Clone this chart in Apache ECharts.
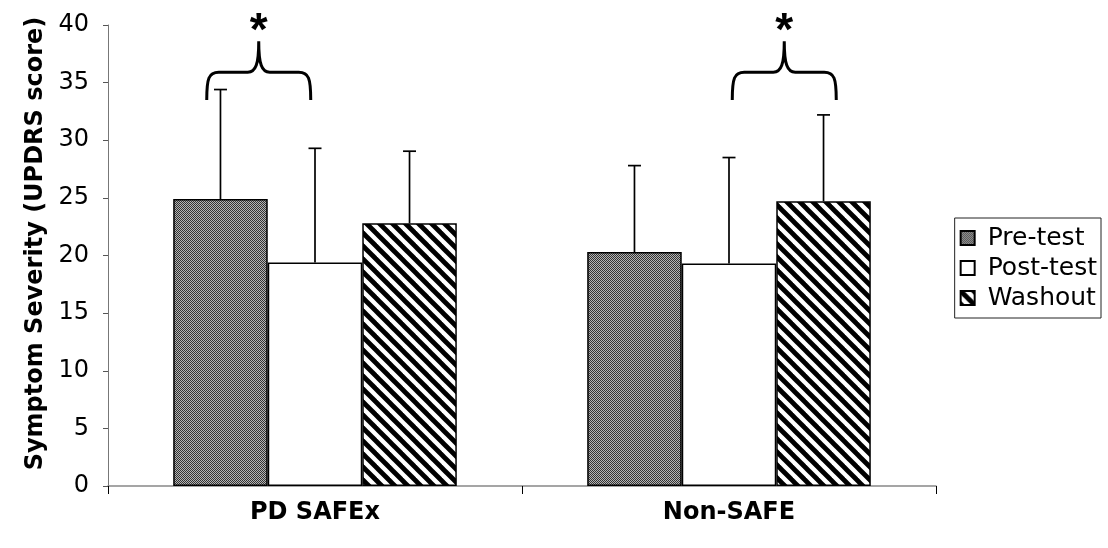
<!DOCTYPE html>
<html><head><meta charset="utf-8">
<script src="https://cdn.jsdelivr.net/npm/echarts@6/dist/echarts.min.js"></script>
<style>html,body{margin:0;padding:0;background:#fff}#c{width:1108px;height:548px}</style>
</head><body><div id="c"></div>
<script>
// ---- data ----
const categories = ['PD SAFEx', 'Non-SAFE'];
const seriesNames = ['Pre-test', 'Post-test', 'Washout'];
const preTest  = [24.9, 20.3];
const postTest = [19.4, 19.3];
const washout  = [22.8, 24.7];
// upper ends of error bars
const preTestErrTop  = [34.4, 27.8];
const postTestErrTop = [29.3, 28.5];
const washoutErrTop  = [29.05, 32.2];
const yTicks = [0, 5, 10, 15, 20, 25, 30, 35, 40];
// significance brackets: category, from series, to series, label
const bracketCategory = [0, 1];
const bracketFrom = [0, 1];
const bracketTo = [1, 2];
const bracketLabel = ['*', '*'];

// ---- styles ----
const FONT = '"DejaVu Sans", Arial, sans-serif';
const STAR_FONT = '"Liberation Sans", Arial, sans-serif';
const bracketNudge = [-9, 8];
const CAT_GAP = 0.315;

function checkerPattern() {
  const c = document.createElement('canvas');
  c.width = 4; c.height = 4;
  const g = c.getContext('2d');
  g.fillStyle = '#b4b4b4'; g.fillRect(0, 0, 4, 4);
  g.fillStyle = '#333333';
  for (let y = 0; y < 4; y++) for (let x = 0; x < 4; x++) if ((x + y) % 2 === 0) g.fillRect(x, y, 1, 1);
  return c;
}
function stripePattern() {
  const p = 13;
  const c = document.createElement('canvas');
  c.width = p; c.height = p;
  const g = c.getContext('2d');
  g.fillStyle = '#fff'; g.fillRect(0, 0, p, p);
  g.strokeStyle = '#000'; g.lineWidth = 4.8;
  for (const k of [-p, 0, p]) {
    g.beginPath(); g.moveTo(-2, k - 2); g.lineTo(p + 2, k + p + 2); g.stroke();
  }
  return c;
}
const fills = [
  { image: checkerPattern(), repeat: 'repeat' },
  '#ffffff',
  { image: stripePattern(), repeat: 'repeat' }
];
const means = [preTest, postTest, washout];
const errTops = [preTestErrTop, postTestErrTop, washoutErrTop];

const errData = [];
for (let s = 0; s < 3; s++) for (let c = 0; c < categories.length; c++) errData.push([c, s, errTops[s][c], means[s][c]]);
const brData = bracketCategory.map((c, i) => [c, bracketFrom[i], bracketTo[i], i]);

function barCenter(api, cat, s) {
  const band = api.size([1, 0])[0];
  const bw = band * (1 - CAT_GAP) / 3;
  const cx = api.coord([cat, 0])[0];
  return { x: cx + (s - 1) * bw, bw: bw };
}

const barSeries = seriesNames.map((n, s) => ({
  name: n, type: 'bar', data: means[s],
  barGap: '0%', barCategoryGap: (CAT_GAP * 100) + '%',
  itemStyle: { color: fills[s], borderColor: '#000', borderWidth: 1.5 },
  emphasis: { disabled: true }, z: 2
}));

const option = {
  animation: false,
  backgroundColor: '#fff',
  grid: { left: 108, right: 172, top: 25, bottom: 62, containLabel: false },
  legend: {
    data: seriesNames, orient: 'vertical', right: 7, top: 218, icon: 'rect',
    itemWidth: 14, itemHeight: 14, itemGap: 4,
    borderColor: '#222', borderWidth: 1, padding: [7, 4, 7, 5],
    textStyle: { fontFamily: FONT, fontSize: 25, lineHeight: 26, color: '#000', padding: [0, 0, 0, 8] },
    selectedMode: false
  },
  xAxis: {
    type: 'category', data: categories,
    axisLine: { lineStyle: { color: '#888', width: 1.5 } },
    axisTick: { show: true, length: 8, lineStyle: { color: '#000' } },
    axisLabel: { fontFamily: FONT, fontSize: 24, fontWeight: 'bold', color: '#000', margin: 15 }
  },
  yAxis: {
    type: 'value', min: 0, max: 40, interval: 5,
    name: 'Symptom Severity (UPDRS score)', nameLocation: 'middle', nameGap: 56,
    nameTextStyle: { fontFamily: FONT, fontSize: 24, fontWeight: 'bold', color: '#000', padding: [0, 0, 0, 24] },
    axisLine: { show: true, lineStyle: { color: '#777', width: 1 } },
    axisTick: { show: true, length: 5, lineStyle: { color: '#555' } },
    axisLabel: { fontFamily: FONT, fontSize: 24, color: '#000', margin: 19,
      formatter: v => yTicks.includes(v) ? String(v) : '' },
    splitLine: { show: false }
  },
  series: barSeries.concat([
    {
      type: 'custom', name: 'err', data: errData, z: 5, silent: true,
      encode: { x: 0, y: 2 },
      renderItem: function (params, api) {
        const cat = api.value(0), s = api.value(1);
        const b = barCenter(api, cat, s);
        const yt = api.coord([cat, api.value(2)])[1];
        const yb = api.coord([cat, api.value(3)])[1];
        const st = { stroke: '#000', lineWidth: 1.7 };
        return { type: 'group', children: [
          { type: 'line', shape: { x1: b.x, y1: yb, x2: b.x, y2: yt }, style: st },
          { type: 'line', shape: { x1: b.x - 6.5, y1: yt, x2: b.x + 6.5, y2: yt }, style: st }
        ] };
      }
    },
    {
      type: 'custom', name: 'brackets', data: brData, z: 6, silent: true, clip: false,
      encode: { x: 0 },
      renderItem: function (params, api) {
        const cat = api.value(0), f = api.value(1), t = api.value(2), i = api.value(3);
        const a = barCenter(api, cat, f), b = barCenter(api, cat, t);
        const mid = (a.x + b.x) / 2 + bracketNudge[i];
        const half = 52;
        const x1 = mid - half, x2 = mid + half;
        const yb = api.coord([cat, 33.5])[1];
        const ys = api.coord([cat, 35.9])[1];
        const yp = api.coord([cat, 38.6])[1];
        const r = 12;
        const d = 'M' + x1 + ' ' + yb +
          ' C' + x1 + ' ' + (ys + 6) + ' ' + (x1 + 2) + ' ' + ys + ' ' + (x1 + r) + ' ' + ys +
          ' L' + (mid - 11) + ' ' + ys +
          ' C' + (mid - 3) + ' ' + ys + ' ' + mid + ' ' + (ys - 8) + ' ' + mid + ' ' + yp +
          ' M' + mid + ' ' + yp +
          ' C' + mid + ' ' + (ys - 8) + ' ' + (mid + 3) + ' ' + ys + ' ' + (mid + 11) + ' ' + ys +
          ' L' + (x2 - r) + ' ' + ys +
          ' C' + (x2 - 2) + ' ' + ys + ' ' + x2 + ' ' + (ys + 6) + ' ' + x2 + ' ' + yb;
        const ystar = api.coord([cat, 40.2])[1];
        return { type: 'group', children: [
          { type: 'path', shape: { pathData: d }, style: { stroke: '#000', lineWidth: 3, fill: null } },
          { type: 'text', style: { text: bracketLabel[i], x: mid, y: ystar + 10, fill: '#000',
              font: 'bold 46px ' + STAR_FONT, align: 'center', verticalAlign: 'middle' } }
        ] };
      }
    }
  ])
};
const chart = echarts.init(document.getElementById('c'), null, { renderer: 'canvas' });
chart.setOption(option);
</script></body></html>
